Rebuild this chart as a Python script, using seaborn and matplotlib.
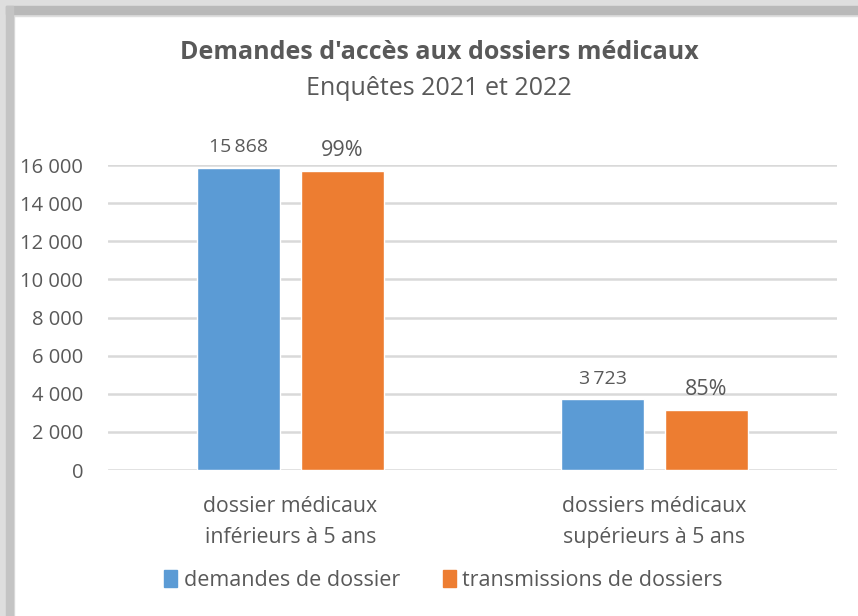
import pandas as pd
import matplotlib.pyplot as plt
import seaborn as sns
from matplotlib.patches import Rectangle

# data
categories = ["dossier médicaux\ninférieurs à 5 ans", "dossiers médicaux\nsupérieurs à 5 ans"]
series = ["demandes de dossier", "transmissions de dossiers"]
demandes = [15868, 3723]
taux_transmission = [0.99, 0.85]
yticks = [0, 2000, 4000, 6000, 8000, 10000, 12000, 14000, 16000]

transmissions = [d * t for d, t in zip(demandes, taux_transmission)]
df = pd.DataFrame({
    "categorie": categories * 2,
    "serie": [series[0]] * 2 + [series[1]] * 2,
    "valeur": demandes + transmissions,
})

sns.set_theme(style="white")
plt.rcParams["font.family"] = ["Open Sans", "DejaVu Sans"]
grey = "#595959"
colors = ["#5B9BD5", "#ED7D31"]

fig = plt.figure(figsize=(8.58, 6.16), dpi=100)
ax = fig.add_axes([0.126, 0.237, 0.849, 0.495])

sns.barplot(data=df, x="categorie", y="valeur", hue="serie", hue_order=series,
            palette=colors, width=0.57, gap=0.2, saturation=1, ax=ax, legend=False)

ax.set_ylim(0, 16000)
ax.set_yticks(yticks)
ax.set_yticklabels([f"{v:,}".replace(",", " ") for v in yticks], fontsize=14.5, color=grey)
ax.tick_params(axis="y", length=0, pad=18)
ax.tick_params(axis="x", length=0, pad=19)
ax.set_xticks(range(len(categories)))
ax.set_xticklabels(categories, fontsize=15.3, color=grey, linespacing=1.6)
ax.set_xlabel("")
ax.set_ylabel("")
ax.yaxis.grid(True, color="#d9d9d9", linewidth=1.8)
ax.set_axisbelow(True)
sns.despine(ax=ax, left=True, bottom=True)

# data labels
for i, cont in enumerate(ax.containers):
    if i == 0:
        labels = [f"{v:,}".replace(",", "\u2009") for v in demandes]
        ax.bar_label(cont, labels=labels, padding=8, fontsize=14, color=grey)
    else:
        labels = [f"{round(t * 100)}%" for t in taux_transmission]
        ax.bar_label(cont, labels=labels, padding=7, fontsize=15.5, color=grey)

# titles
fig.text(0.512, 0.915, "Demandes d'accès aux dossiers médicaux", ha="center", va="center",
         fontsize=18, fontweight="bold", color=grey)
fig.text(0.512, 0.856, "Enquêtes 2021 et 2022", ha="center", va="center",
         fontsize=18, color=grey)

# legend
handles = [Rectangle((0, 0), 1, 1, color=c) for c in colors]
fig.legend(handles, series, loc="center", bbox_to_anchor=(0.517, 0.058), ncol=2,
           frameon=False, fontsize=15.5, labelcolor=grey, handlelength=0.6,
           handleheight=0.8, handletextpad=0.3, columnspacing=2.0)

# shadow frame on top and left
W, H = 858, 616
def band(x0, y0, w, h, c):
    fig.patches.append(Rectangle((x0 / W, 1 - (y0 + h) / H), w / W, h / H,
                                 transform=fig.transFigure, color=c, zorder=-1))

band(0, 0, W, 16, "#dedede")
band(0, 0, 14, H, "#dedede")
band(6, 6, W - 6, 8, "#b9b9b9")
band(6, 6, 7, H - 6, "#c4c4c4")

fig.savefig("out.png", dpi=100, facecolor="white")
